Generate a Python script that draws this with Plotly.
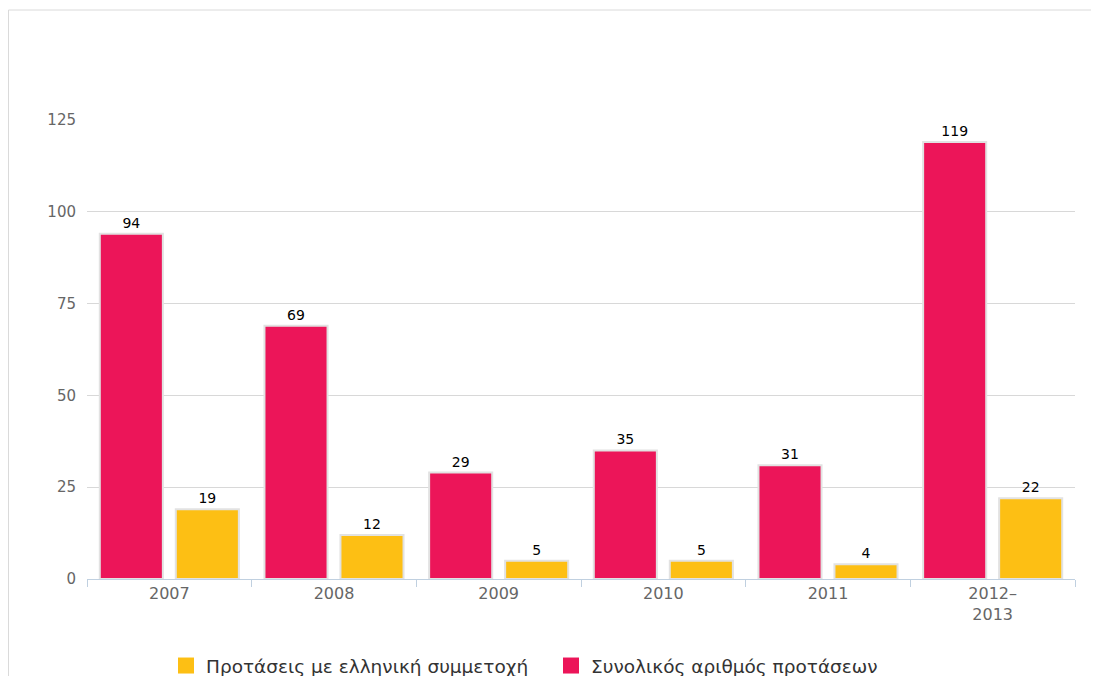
import plotly.graph_objects as go

categories = ["2007", "2008", "2009", "2010", "2011", "2012–<br>2013"]
total_name = "Συνολικός αριθμός προτάσεων"
total_values = [94, 69, 29, 35, 31, 119]
greek_name = "Προτάσεις με ελληνική συμμετοχή"
greek_values = [19, 12, 5, 5, 4, 22]
y_ticks = [0, 25, 50, 75, 100, 125]

PINK = "#EC1559"
YELLOW = "#FDBF14"
FONT = "DejaVu Sans"

fig = go.Figure()
fig.add_trace(go.Bar(
    x=categories, y=total_values, name=total_name, legendgroup="total",
    showlegend=False,
    marker=dict(color=PINK, line=dict(color="#e2e2e2", width=2)),
    text=total_values, textposition="outside", cliponaxis=False,
    textfont=dict(family=FONT, size=14, color="#000000"),
))
fig.add_trace(go.Bar(
    x=categories, y=greek_values, name=greek_name, legendgroup="greek",
    showlegend=False,
    marker=dict(color=YELLOW, line=dict(color="#e2e2e2", width=2)),
    text=greek_values, textposition="outside", cliponaxis=False,
    textfont=dict(family=FONT, size=14, color="#000000"),
))
# legend entries (larger square swatches, yellow first as in the original)
for name, color, grp in [(greek_name, YELLOW, "greek"), (total_name, PINK, "total")]:
    fig.add_trace(go.Scatter(
        x=[None], y=[None], mode="markers", name=name, legendgroup=grp,
        marker=dict(symbol="square", size=16, color=color, line=dict(width=0)),
        hoverinfo="skip",
    ))

# page offset (browser body margin)
OFF = 8
W, H = 1099 - 2 * OFF, 684 - 2 * OFF
# target plot area in page pixels: x 87..1075, y 120..579
ml, mt = 87 - OFF, 120 - OFF
mr = W - (1075 - OFF)
mb = H - (579 - OFF)
pw, ph = W - ml - mr, H - mt - mb


def px_x(p):
    return (p - OFF - ml) / pw


def px_y(p):
    return (H - mb - (p - OFF)) / ph


def cont_y(p):
    return 1 - (p - OFF) / H


fig.update_layout(
    width=W, height=H,
    margin=dict(l=ml, r=mr, t=mt, b=mb),
    paper_bgcolor="white", plot_bgcolor="white",
    barmode="group", bargap=0.077, bargroupgap=0.17,
    font=dict(family=FONT, color="#666666"),
    showlegend=True,
    legend=dict(
        orientation="h", traceorder="normal",
        x=px_x(166), xanchor="left",
        yref="container", y=cont_y(666), yanchor="middle",
        font=dict(family=FONT, size=18.5, color="#333333"),
        itemwidth=30, itemsizing="trace", entrywidth=340,
    ),
    xaxis=dict(
        type="category", showgrid=False, showline=True, linecolor="#C0D0E0",
        linewidth=1, ticks="outside", tickson="boundaries", ticklen=7,
        tickcolor="#C0D0E0", tickfont=dict(family=FONT, size=16, color="#666666"),
        zeroline=False, automargin=False,
    ),
    yaxis=dict(
        range=[0, 125], tickvals=y_ticks, showgrid=True, gridcolor="#D8D8D8",
        gridwidth=1, zeroline=False, showline=False, ticks="",
        tickfont=dict(family=FONT, size=15, color="#666666"),
        ticklabelstandoff=10, automargin=False,
    ),
    shapes=[dict(
        type="rect", xref="paper", yref="paper",
        x0=px_x(8.5), x1=px_x(1120), y0=px_y(10), y1=px_y(720),
        line=dict(color="#DADADA", width=1), fillcolor="rgba(0,0,0,0)",
        layer="below",
    )],
)

fig.write_html("out.html")
